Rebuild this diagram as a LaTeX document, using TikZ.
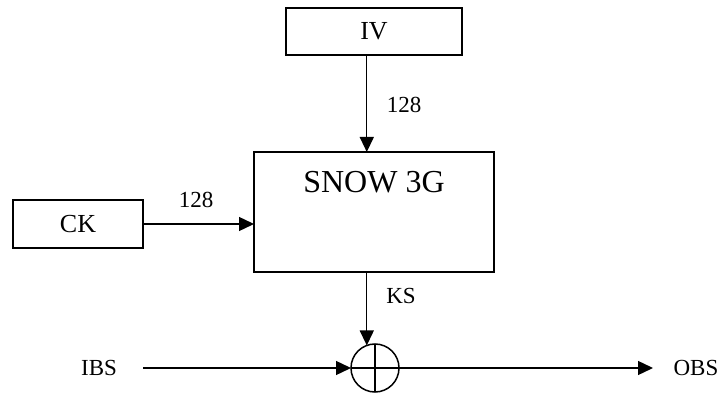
\documentclass[tikz,border=0pt]{standalone}
\usepackage{fontspec}
\setmainfont{Liberation Serif}
\usetikzlibrary{arrows.meta}
\begin{document}
\begin{tikzpicture}[x=1pt,y=1pt,
  box/.style={draw, line width=1.5pt, minimum width=#1, inner sep=0pt, outer sep=0pt},
  lbl/.style={font=\fontsize{23}{25}\selectfont, inner sep=0pt},
  arr/.style={line width=1.4pt, -{Triangle[length=15pt,width=14pt]}},
  ln/.style={line width=1.4pt}]
\useasboundingbox (0,0) rectangle (724,394);
\node[box=176pt, minimum height=47pt, font=\fontsize{26}{28}\selectfont] (iv) at (374,362.5) {IV};
\node[box=240pt, minimum height=120pt] (snow) at (374,182) {};
\node[font=\fontsize{32}{34}\selectfont, inner sep=0pt] (snowt) at (374,212) {SNOW 3G};
\node[box=130pt, minimum height=48pt, font=\fontsize{26}{28}\selectfont] (ck) at (78,170) {CK};
\node[draw, circle, line width=1.5pt, minimum size=48pt, inner sep=0pt, outer sep=0pt] (xor) at (375,26) {};
\draw[ln] (xor.north) -- (xor.south) (xor.west) -- (xor.east);
\node[lbl] (ibs) at (99,26) {IBS};
\node[lbl] (obs) at (696,26) {OBS};
\coordinate (in) at (143,26);
\coordinate (out) at (653,26);
\node[lbl] (l1) at (404,289) {128};
\node[lbl] (l2) at (196,194) {128};
\node[lbl] (ks) at (401,98) {KS};
\draw[arr] (xor.110 |- iv.south) -- (xor.110 |- snow.north);
\draw[arr] (ck.east) -- (ck.east -| snow.west);
\draw[arr] (xor.110 |- snow.south) -- (xor.110);
\draw[arr] (in) -- (xor.west);
\draw[arr] (xor.east) -- (out);
\end{tikzpicture}
\end{document}
